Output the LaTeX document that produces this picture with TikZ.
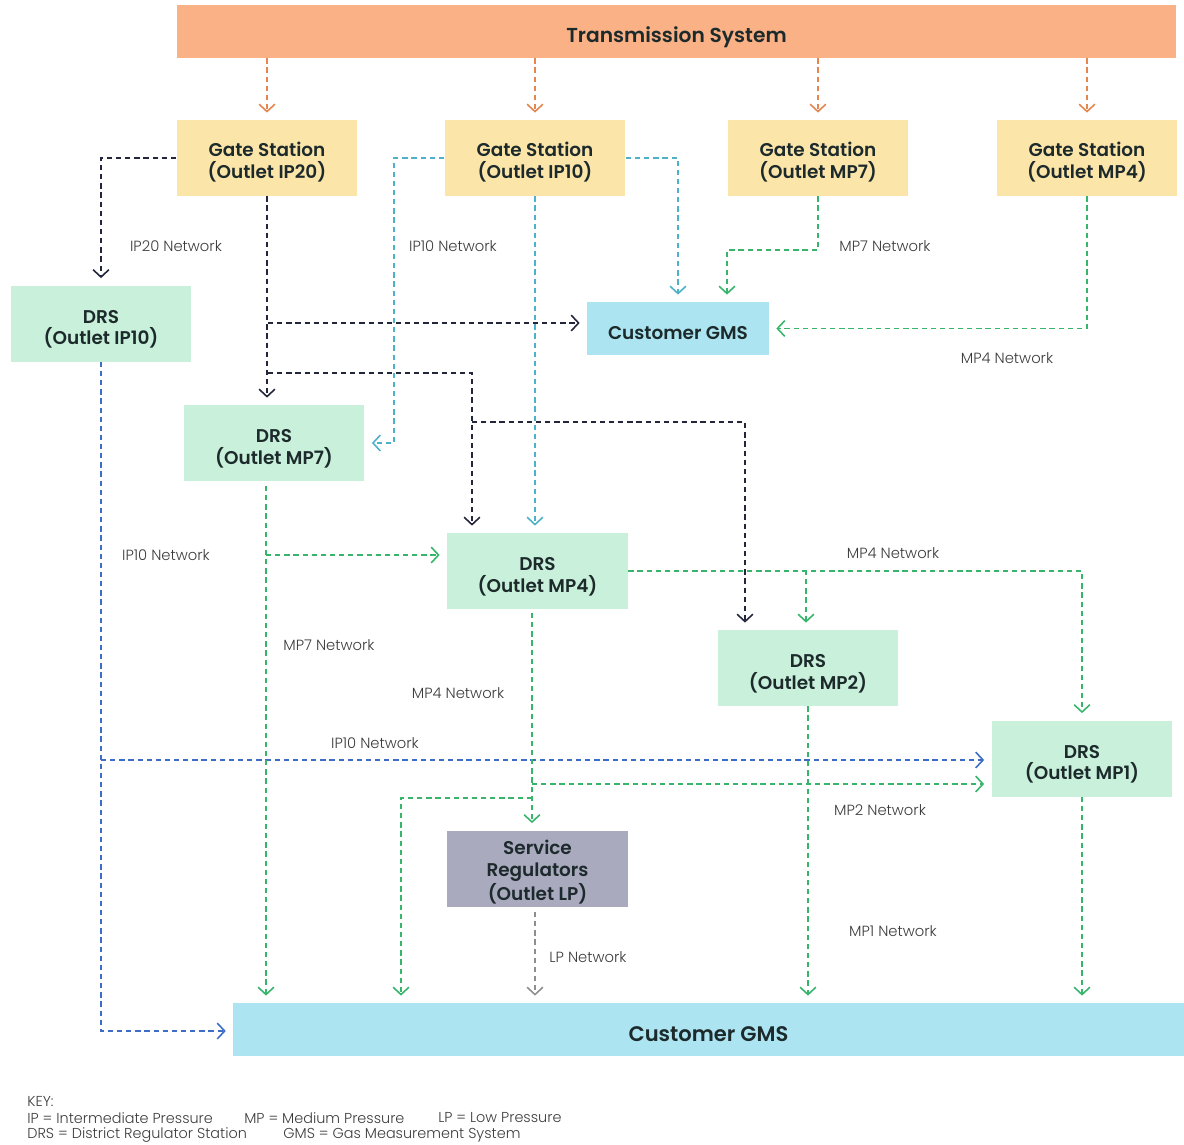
\documentclass[tikz,border=0pt]{standalone}
\usepackage{fontspec}
\setmainfont{Poppins}
\newfontfamily\semifont{Poppins SemiBold}
\newfontfamily\lightfont{Poppins Light}
\usetikzlibrary{arrows.meta,calc}

\definecolor{transfill}{HTML}{FAB185}
\definecolor{gatefill}{HTML}{FCE5A9}
\definecolor{drsfill}{HTML}{C8F0DA}
\definecolor{gmsfill}{HTML}{ACE5F1}
\definecolor{regfill}{HTML}{AAAABF}
\definecolor{ink}{HTML}{1D2A2C}
\definecolor{orangeline}{HTML}{E5864F}
\definecolor{navyline}{HTML}{23263A}
\definecolor{tealline}{HTML}{4DB2C8}
\definecolor{greenline}{HTML}{36B56B}
\definecolor{blueline}{HTML}{3E6DC6}
\definecolor{greyline}{HTML}{8E8E8E}
\definecolor{labelgrey}{HTML}{3C3C3C}

% struts to sit the box text a little low, as drawn
\newcommand{\gstrut}{\rule{0pt}{12.4pt}}
\newcommand{\dstrut}{\rule{0pt}{14pt}}

\begin{document}
\begin{tikzpicture}[x=0.02cm,y=-0.02cm,
    box/.style={inner sep=0pt,minimum width=3.62cm,minimum height=1.52cm,align=center,
        font=\fontsize{10.5}{12.5}\selectfont\semifont,text=ink},
    gate/.style={box,fill=gatefill},
    drs/.style={box,fill=drsfill},
    gms/.style={box,fill=gmsfill,minimum height=1.06cm,text height=13pt,text depth=0pt},
    pipe/.style={dash pattern=on 3pt off 2.2pt,line width=0.9pt,
        -{Straight Barb[length=4.2pt,width=9pt]},shorten >=4pt},
    net/.style={font=\fontsize{8.4}{9}\selectfont\lightfont,text=labelgrey},
    keytext/.style={font=\fontsize{8.2}{9}\selectfont\lightfont,text=labelgrey,anchor=west,inner sep=0pt}]

    \useasboundingbox (0,0) rectangle (1184,1144);

    % boxes
    \node[fill=transfill,minimum width=19.98cm,minimum height=1.06cm,inner sep=0pt,
        text height=12pt,text depth=0pt,
        font=\fontsize{11.5}{13}\selectfont\semifont,text=ink] (trans) at (676.5,31.5) {Transmission System};
    \node[gate] (gIP20) at (267,158) {\gstrut Gate Station\\(Outlet IP20)};
    \node[gate] (gIP10) at (535,158) {\gstrut Gate Station\\(Outlet IP10)};
    \node[gate] (gMP7) at (818,158) {\gstrut Gate Station\\(Outlet MP7)};
    \node[gate] (gMP4) at (1087,158) {\gstrut Gate Station\\(Outlet MP4)};
    \node[drs] (drsIP10) at (101,323.5) {\dstrut DRS\\(Outlet IP10)};
    \node[gms,minimum width=3.64cm] (gmsTop) at (678,328.5) {Customer GMS};
    \node[drs] (drsMP7) at (274,443) {\dstrut DRS\\(Outlet MP7)};
    \node[drs] (drsMP4) at (537.5,571) {\dstrut DRS\\(Outlet MP4)};
    \node[drs] (drsMP2) at (808,668) {\dstrut DRS\\(Outlet MP2)};
    \node[drs] (drsMP1) at (1082,758.5) {\dstrut DRS\\(Outlet MP1)};
    \node[box,fill=regfill] (servReg) at (537.5,868.5) {\gstrut Service\\Regulators\\(Outlet LP)};
    \node[gms,minimum width=19.02cm,text height=14pt,
        font=\fontsize{12}{14}\selectfont\semifont] (gmsBot) at (708.5,1029.5) {Customer GMS};

    % junctions
    \coordinate (j1) at (268,323);
    \coordinate (j2) at (268,373);
    \coordinate (j3) at (472,373);
    \coordinate (j4) at (472,422);
    \coordinate (j5) at (745,422);
    \coordinate (t1) at (394,443);
    \coordinate (g1) at (727,250);
    \coordinate (g2) at (266,486);
    \coordinate (g3) at (266,555);
    \coordinate (g4) at (806,570);
    \coordinate (g5) at (532,613);
    \coordinate (g6) at (532,784);
    \coordinate (g7) at (532,798);
    \coordinate (g8) at (401,798);
    \coordinate (b1) at (101,760);
    \coordinate (b2) at (101,1031);
    \coordinate (s1) at (535,912);

    % transmission feeds
    \foreach \g in {gIP20,gIP10,gMP7,gMP4}
        \draw[pipe,orangeline] (trans.south -| \g.north) -- (\g.north);

    % IP20 network
    \draw[pipe,navyline] (gIP20.west) -| (drsIP10.north);
    \draw[pipe,navyline] (gIP20.south) -- (gIP20.south |- drsMP7.north);
    \draw[pipe,navyline] (j1) -- (j1 -| gmsTop.west);
    \draw[pipe,navyline] (j2) -- (j3) -- (j3 |- drsMP4.north);
    \draw[pipe,navyline] (j4) -- (j5) -- (j5 |- drsMP2.north);

    % IP10 network
    \draw[pipe,tealline] (gIP10.west) -| (t1) -- (drsMP7.east);
    \draw[pipe,tealline] (gIP10.east) -| (gmsTop.north);
    \draw[pipe,tealline] (gIP10.south) -- (gIP10.south |- drsMP4.north);
    \draw[pipe,blueline] (drsIP10.south) -- (b2) -- (b2 -| gmsBot.west);
    \draw[pipe,blueline] (b1) -- (b1 -| drsMP1.west);

    % MP networks
    \draw[pipe,greenline] (gMP7.south) |- (g1) -- (g1 |- gmsTop.north);
    \draw[pipe,greenline] (gMP4.south) |- (gmsTop.east);
    \draw[pipe,greenline] (g2) -- (g2 |- gmsBot.north);
    \draw[pipe,greenline] (g3) -- (g3 -| drsMP4.west);
    \draw[pipe,greenline] (drsMP4.east) -| (drsMP1.north);
    \draw[pipe,greenline] (g4) -- (g4 |- drsMP2.north);
    \draw[pipe,greenline] (g5) -- (g5 |- servReg.north);
    \draw[pipe,greenline] (g6) -- (g6 -| drsMP1.west);
    \draw[pipe,greenline] (g7) -- (g8) -- (g8 |- gmsBot.north);
    \draw[pipe,greenline] (drsMP2.south) -- (drsMP2.south |- gmsBot.north);
    \draw[pipe,greenline] (drsMP1.south) -- (drsMP1.south |- gmsBot.north);

    % LP network
    \draw[pipe,greyline] (s1) -- (s1 |- gmsBot.north);

    % network labels
    \node[net] (lIP20) at (176,246) {IP20 Network};
    \node[net] (lIP10a) at (453,246) {IP10 Network};
    \node[net] (lMP7a) at (885,246) {MP7 Network};
    \node[net] (lMP4a) at (1007,358) {MP4 Network};
    \node[net] (lIP10b) at (166,555) {IP10 Network};
    \node[net] (lMP4b) at (893,553) {MP4 Network};
    \node[net] (lMP7b) at (329,645) {MP7 Network};
    \node[net] (lMP4c) at (458,693) {MP4 Network};
    \node[net] (lIP10c) at (375,743) {IP10 Network};
    \node[net] (lMP2) at (880,810) {MP2 Network};
    \node[net] (lMP1) at (893,931) {MP1 Network};
    \node[net] (lLP) at (588,957) {LP Network};

    % key
    \node[keytext] (kHead) at (27,1101) {KEY:};
    \node[keytext] (kIP) at (27,1118) {IP = Intermediate Pressure};
    \node[keytext] (kMP) at (244,1118) {MP = Medium Pressure};
    \node[keytext] (kLP) at (438,1118) {LP = Low Pressure};
    \node[keytext] (kDRS) at (27,1135) {DRS = District Regulator Station};
    \node[keytext] (kGMS) at (283,1135) {GMS = Gas Measurement System};
\end{tikzpicture}
\end{document}
